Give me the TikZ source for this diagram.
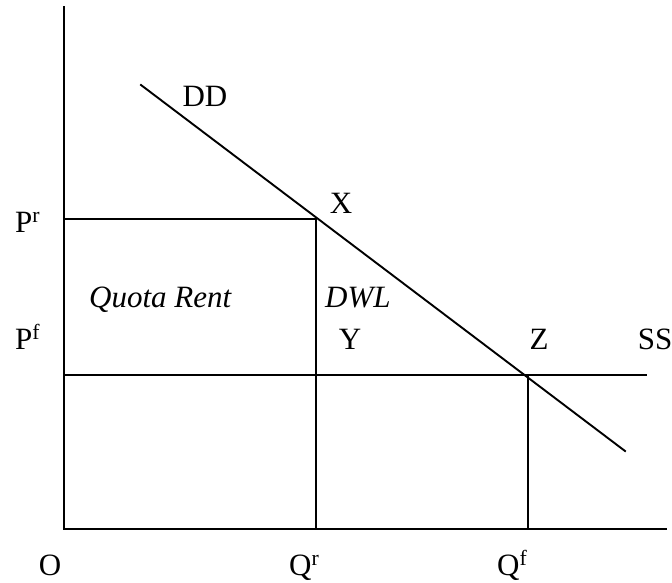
\documentclass[tikz,border=0pt]{standalone}
\usepackage{fontspec}
\setmainfont{Liberation Serif}
\begin{document}
\begin{tikzpicture}[x=1pt,y=-1pt,
  ln/.style={line width=1.9pt, line cap=rect},
  lbl/.style={inner sep=0pt, anchor=base, font=\fontsize{31}{33}\selectfont},
  ilbl/.style={inner sep=0pt, anchor=base west, font=\fontsize{31}{33}\selectfont\itshape}]
\useasboundingbox (0,0) rectangle (672,583);
% key points
\coordinate (O) at (64,529);
\coordinate (ytop) at (64,7);
\coordinate (xend) at (666,529);
\coordinate (Prp) at (64,219);
\coordinate (Xp) at (316,219);
\coordinate (Qrp) at (316,529);
\coordinate (Pfp) at (64,375);
\coordinate (SSend) at (646,375);
\coordinate (Zp) at (528,375);
\coordinate (Qfp) at (528,529);
\coordinate (D1) at (141,85);
\coordinate (D2) at (625,451);
% axes
\draw[ln] (ytop) -- (O) -- (xend);
% demand
\draw[ln] (D1) -- (D2);
% quota price and quantity
\draw[ln] (Prp) -- (Xp) -- (Qrp);
% world supply
\draw[ln] (Pfp) -- (SSend);
\draw[ln] (Zp) -- (Qfp);
% labels
\node[lbl] (tDD) at (205,107) {DD};
\node[lbl] (tX) at (341,213) {X};
\node[lbl, anchor=base west] (tPr) at (15,232) {P\textsuperscript{r}};
\node[lbl, anchor=base west] (tPf) at (15,349) {P\textsuperscript{f}};
\node[ilbl] (tQR) at (89,307) {Quota Rent};
\node[ilbl] (tDWL) at (325,307) {DWL};
\node[lbl] (tY) at (350,349) {Y};
\node[lbl] (tZ) at (539,349) {Z};
\node[lbl] (tSS) at (655,349) {SS};
\node[lbl] (tO) at (50,575) {O};
\node[lbl, anchor=base west] (tQr) at (289,575) {Q\textsuperscript{r}};
\node[lbl, anchor=base west] (tQf) at (497,575) {Q\textsuperscript{f}};
\end{tikzpicture}
\end{document}
